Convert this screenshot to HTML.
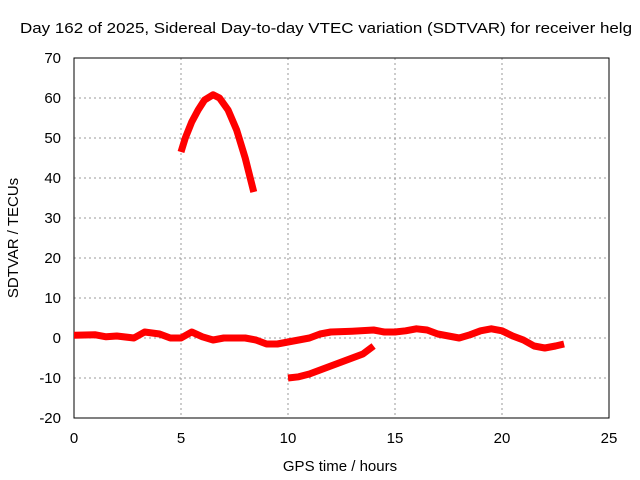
<!DOCTYPE html>
<html><head><meta charset="utf-8"><style>body{margin:0;background:#fff}svg{display:block}text{font-family:"Liberation Sans",sans-serif;font-size:15px;fill:#000}</style></head>
<body>
<svg id="c" width="640" height="480"></svg>
<script>
const xTicks=[0,5,10,15,20,25];
const yTicks=[-20,-10,0,10,20,30,40,50,60,70];
const mainX=[0,1,1.5,2,2.8,3.3,4,4.5,5,5.5,6,6.5,7,8,8.5,9,9.5,10,11,11.5,12,13,14,14.5,15,15.5,16,16.5,17,17.5,18,18.5,19,19.5,20,20.5,21,21.5,22,22.5,22.9];
const mainY=[0.7,0.8,0.3,0.5,0,1.5,1,0,0,1.5,0.3,-0.5,0,0,-0.5,-1.5,-1.5,-1,0,1,1.5,1.7,2,1.5,1.5,1.8,2.3,2,1,0.5,0,0.8,1.8,2.3,1.8,0.5,-0.5,-2,-2.5,-2,-1.5];
const lowX=[10,10.5,11,11.5,12,12.5,13,13.5,14];
const lowY=[-10,-9.7,-9,-8,-7,-6,-5,-4,-2];
const peakX=[5,5.2,5.5,5.8,6.1,6.5,6.8,7.2,7.6,8,8.4];
const peakY=[46.5,50,54,57,59.5,60.8,60,57,52,45,36.5];
const L=74,R=609,T=58,B=418;
const sx=v=>L+(v-0)/(25-0)*(R-L), sy=v=>B-(v+20)/90*(B-T);
const svg=document.getElementById('c');const NS='http://www.w3.org/2000/svg';
function el(t,a,txt){const e=document.createElementNS(NS,t);for(const k in a)e.setAttribute(k,a[k]);if(txt!==undefined)e.textContent=txt;svg.appendChild(e);return e;}
xTicks.forEach(v=>{const g=el('line',{x1:sx(v),x2:sx(v),y1:T,y2:B,stroke:'#999','stroke-dasharray':'2,3'});


const t=el('text',{x:sx(v),y:B+25,'text-anchor':'middle'},v);

});
yTicks.forEach(v=>{const g=el('line',{x1:L,x2:R,y1:sy(v),y2:sy(v),stroke:'#999','stroke-dasharray':'2,3'});


const t=el('text',{x:L-13,y:sy(v)+5,'text-anchor':'end'},v);

});
const fr=el('rect',{x:L,y:T,width:R-L,height:B-T,fill:'none',stroke:'#000'});


[[mainX,mainY,'main-series'],[lowX,lowY,'low-series'],[peakX,peakY,'peak-series']].forEach(([xs,ys,n])=>{
const p=el('polyline',{points:xs.map((x,i)=>sx(x)+','+sy(ys[i])).join(' '),fill:'none',stroke:'#f00','stroke-width':7,'stroke-linejoin':'round'});

});
const ti=el('text',{x:20,y:33,textLength:612,lengthAdjust:'spacingAndGlyphs'},'Day 162 of 2025, Sidereal Day-to-day VTEC variation (SDTVAR) for receiver helg');


const xt=el('text',{x:340,y:471,'text-anchor':'middle'},'GPS time / hours');


const yt=el('text',{x:0,y:0,'text-anchor':'middle',transform:'translate(18,238) rotate(-90)'},'SDTVAR / TECUs');


</script>
</body></html>
